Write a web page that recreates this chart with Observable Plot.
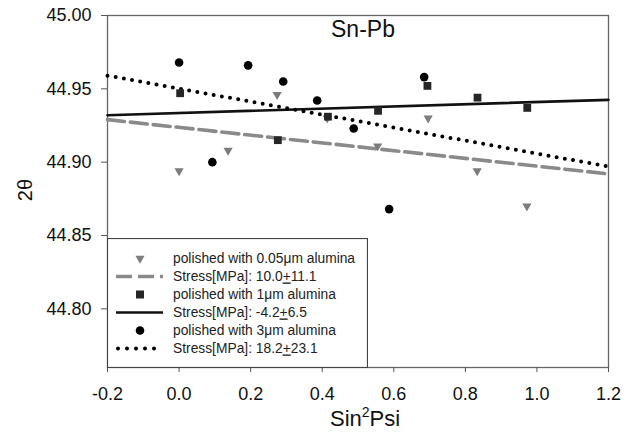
<!DOCTYPE html>
<html><head><meta charset="utf-8">
<script src="https://cdn.jsdelivr.net/npm/d3@7"></script>
<script src="https://cdn.jsdelivr.net/npm/@observablehq/plot@0.6"></script>
<style>
body{margin:0;background:#fff;font-family:"Liberation Sans",Arial,sans-serif}
#wrap{position:relative;width:634px;height:436px;overflow:hidden}
.lab{position:absolute;color:#111;white-space:nowrap}
</style></head><body><div id="wrap"></div>
<script>
// 0.05 µm alumina (gray down triangles)
const triX = [0.000, 0.137, 0.274, 0.414, 0.555, 0.696, 0.833, 0.972];
const triY = [44.894, 44.908, 44.946, 44.930, 44.911, 44.930, 44.894, 44.870];
// 1 µm alumina (dark squares)
const sqX = [0.003, 0.276, 0.416, 0.556, 0.694, 0.834, 0.973];
const sqY = [44.947, 44.915, 44.931, 44.935, 44.952, 44.944, 44.937];
// 3 µm alumina (black circles)
const ciX = [0.000, 0.093, 0.193, 0.291, 0.386, 0.488, 0.587, 0.685];
const ciY = [44.968, 44.900, 44.966, 44.955, 44.942, 44.923, 44.868, 44.958];
// fitted lines, end points
const fitX = [-0.2, 1.2];
const fit005 = [44.929, 44.892];
const fit1 = [44.932, 44.9425];
const fit3 = [44.959, 44.897];
const xTicks = [-0.2, 0.0, 0.2, 0.4, 0.6, 0.8, 1.0, 1.2];
const yTicks = [44.80, 44.85, 44.90, 44.95, 45.00];
const legendLabels = [
  ["polished with 0.05μm alumina"],
  ["Stress[MPa]: 10.0", "+", "11.1"],
  ["polished with 1μm alumina"],
  ["Stress[MPa]: -4.2", "+", "6.5"],
  ["polished with 3μm alumina"],
  ["Stress[MPa]: 18.2", "+", "23.1"]
];

const pts = (xs, ys) => xs.map((x, i) => ({x, y: ys[i]}));
const FONT = "'Liberation Sans', Arial, sans-serif";

const chart = Plot.plot({
  width: 634, height: 436,
  marginLeft: 107, marginRight: 26, marginTop: 15, marginBottom: 69,
  style: {fontFamily: FONT, fontSize: "18px", background: "#fff", color: "#111"},
  x: {domain: [-0.2, 1.2]},
  y: {domain: [44.76, 45.0]},
  marks: [
    Plot.frame({stroke: "#666", strokeWidth: 1.3}),
    Plot.axisX({ticks: xTicks, tickSize: 5, tickPadding: 15, tickFormat: d => d.toFixed(1), label: null, fontSize: 18, stroke: "#555"}),
    Plot.axisY({ticks: yTicks, tickSize: 6, tickPadding: 10, tickFormat: d => d.toFixed(2), label: null, fontSize: 18, stroke: "#555"}),
    Plot.line(pts(fitX, fit005), {x: "x", y: "y", stroke: "#8a8a8a", strokeWidth: 3.6, strokeDasharray: "17 6"}),
    Plot.line(pts(fitX, fit1), {x: "x", y: "y", stroke: "#111", strokeWidth: 2.6}),
    Plot.line(pts(fitX, fit3), {x: "x", y: "y", stroke: "#000", strokeWidth: 4, strokeDasharray: "0 8.3", strokeLinecap: "round"}),
    Plot.dot(pts(triX, triY), {x: "x", y: "y", symbol: "triangle", rotate: 180, r: 3.4, fill: "#7c7c7c", stroke: "none"}),
    Plot.dot(pts(sqX, sqY), {x: "x", y: "y", symbol: "square", r: 4.4, fill: "#262626", stroke: "none"}),
    Plot.dot(pts(ciX, ciY), {x: "x", y: "y", symbol: "circle", r: 4.3, fill: "#000", stroke: "none"}),
    Plot.text(["Sn-Pb"], {frameAnchor: "top", dx: 5, dy: 5, fontSize: 23, fill: "#111"})
  ]
});
const wrap = document.getElementById("wrap");
chart.style.position = "absolute"; chart.style.left = "0"; chart.style.top = "0";
wrap.appendChild(chart);

// axis titles
const xl = document.createElement("div");
xl.className = "lab";
xl.style.cssText = "left:330px;top:406px;font-size:22px;";
xl.innerHTML = 'Sin<span style="font-size:14px;position:relative;top:-9px">2</span>Psi';
wrap.appendChild(xl);
const yl = document.createElement("div");
yl.className = "lab";
yl.style.cssText = "left:25px;top:190px;font-size:20px;transform:translate(-50%,-50%) rotate(-90deg);";
yl.textContent = "2θ";
wrap.appendChild(yl);

// legend
const lg = d3.select(wrap).append("svg")
  .attr("width", 261).attr("height", 130)
  .style("position", "absolute").style("left", "106.5px").style("top", "237.5px")
  .style("font-family", FONT);
lg.append("rect").attr("x", 0.5).attr("y", 0.5).attr("width", 260).attr("height", 129)
  .attr("fill", "#fff").attr("stroke", "#444").attr("stroke-width", 1.2);
const rowY = i => 20.5 + i * 18;
const sym = [
  g => g.append("path").attr("d", d3.symbol(d3.symbolTriangle, 36)()).attr("transform", "translate(33," + rowY(0) + ") rotate(180)").attr("fill", "#7c7c7c"),
  g => g.append("line").attr("x1", 9).attr("x2", 56).attr("y1", rowY(1)).attr("y2", rowY(1)).attr("stroke", "#8a8a8a").attr("stroke-width", 3.6).attr("stroke-dasharray", "16 6"),
  g => g.append("rect").attr("x", 29).attr("y", rowY(2) - 4).attr("width", 8).attr("height", 8).attr("fill", "#262626"),
  g => g.append("line").attr("x1", 9).attr("x2", 56).attr("y1", rowY(3)).attr("y2", rowY(3)).attr("stroke", "#111").attr("stroke-width", 2.6),
  g => g.append("circle").attr("cx", 33).attr("cy", rowY(4)).attr("r", 4.3).attr("fill", "#000"),
  g => g.append("line").attr("x1", 11).attr("x2", 56).attr("y1", rowY(5)).attr("y2", rowY(5)).attr("stroke", "#000").attr("stroke-width", 4).attr("stroke-dasharray", "0 9").attr("stroke-linecap", "round")
];
legendLabels.forEach((parts, i) => {
  sym[i](lg);
  const t = lg.append("text").attr("x", 66).attr("y", rowY(i)).attr("dy", "0.36em")
    .attr("font-size", 13.8).attr("fill", "#222");
  parts.forEach((p, j) => {
    const ts = t.append("tspan").text(p);
    if (j === 1) ts.style("text-decoration", "underline");
  });
});
</script>
</body></html>
